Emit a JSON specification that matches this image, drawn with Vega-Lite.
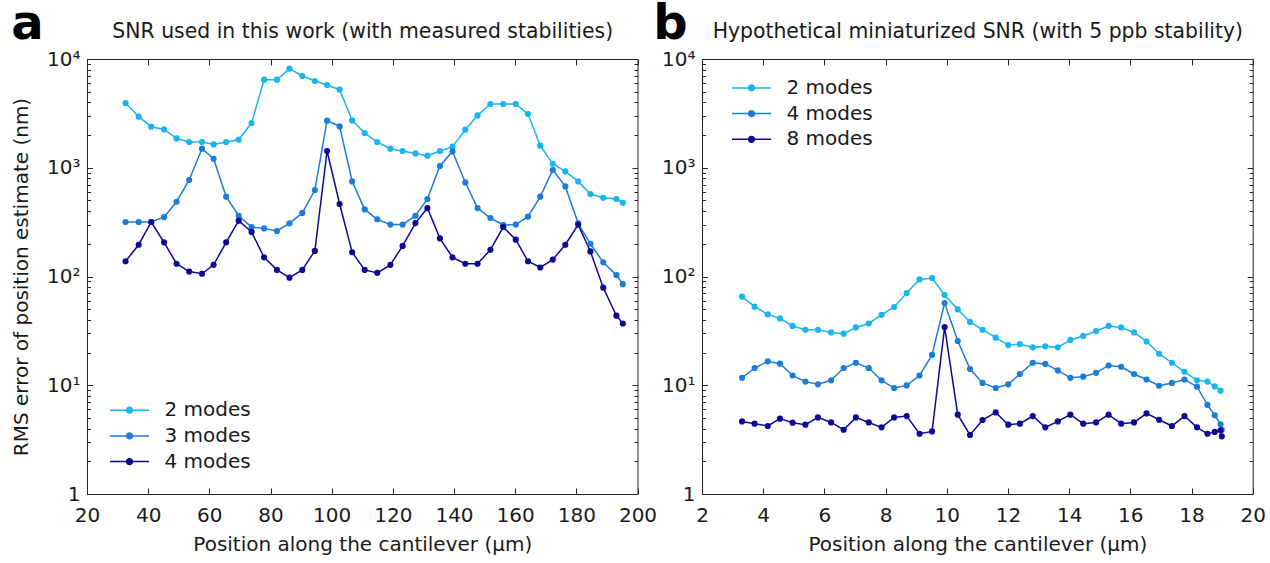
{
  "$schema": "https://vega.github.io/schema/vega-lite/v6.json",
  "background": "white",
  "padding": {"left": 10, "top": 0, "right": 0, "bottom": 0},
  "spacing": -5,
  "config": {
    "font": "DejaVu Sans",
    "view": {"stroke": null},
    "axis": {
      "grid": false,
      "domainColor": "#262626",
      "tickColor": "#262626",
      "domainWidth": 1,
      "tickWidth": 1,
      "labelColor": "#1a1a1a",
      "titleColor": "#1a1a1a",
      "labelFont": "DejaVu Sans",
      "titleFont": "DejaVu Sans",
      "labelFontSize": 20,
      "titleFontSize": 20,
      "titleFontWeight": "normal",
      "labelOverlap": false,
      "labelFlush": false
    },
    "legend": {
      "labelFont": "DejaVu Sans",
      "labelFontSize": 20,
      "labelColor": "#1a1a1a"
    }
  },
  "resolve": {"scale": {"color": "independent"}, "legend": {"color": "independent"}},
  "hconcat": [
    {
      "width": 550.5,
      "height": 435,
      "data": {"values": [
        {"x":32.6,"v":3939,"s":"2 modes"},{"x":36.9,"v":2947,"s":"2 modes"},{"x":41.0,"v":2385,"s":"2 modes"},{"x":45.2,"v":2252,"s":"2 modes"},{"x":49.3,"v":1861,"s":"2 modes"},{"x":53.4,"v":1725,"s":"2 modes"},{"x":57.6,"v":1725,"s":"2 modes"},{"x":61.4,"v":1640,"s":"2 modes"},{"x":65.5,"v":1725,"s":"2 modes"},{"x":69.6,"v":1811,"s":"2 modes"},{"x":73.8,"v":2579,"s":"2 modes"},{"x":77.9,"v":6451,"s":"2 modes"},{"x":82.1,"v":6451,"s":"2 modes"},{"x":86.2,"v":8144,"s":"2 modes"},{"x":90.4,"v":6978,"s":"2 modes"},{"x":94.5,"v":6276,"s":"2 modes"},{"x":98.5,"v":5767,"s":"2 modes"},{"x":102.6,"v":5220,"s":"2 modes"},{"x":106.7,"v":2725,"s":"2 modes"},{"x":110.8,"v":2087,"s":"2 modes"},{"x":114.9,"v":1725,"s":"2 modes"},{"x":119.2,"v":1497,"s":"2 modes"},{"x":123.2,"v":1426,"s":"2 modes"},{"x":127.4,"v":1355,"s":"2 modes"},{"x":131.3,"v":1291,"s":"2 modes"},{"x":135.4,"v":1426,"s":"2 modes"},{"x":139.5,"v":1562,"s":"2 modes"},{"x":143.7,"v":2238,"s":"2 modes"},{"x":147.7,"v":3030,"s":"2 modes"},{"x":151.9,"v":3857,"s":"2 modes"},{"x":156.1,"v":3857,"s":"2 modes"},{"x":160.2,"v":3857,"s":"2 modes"},{"x":164.2,"v":3120,"s":"2 modes"},{"x":168.2,"v":1595,"s":"2 modes"},{"x":172.3,"v":1089,"s":"2 modes"},{"x":176.4,"v":926,"s":"2 modes"},{"x":180.6,"v":749,"s":"2 modes"},{"x":184.6,"v":574,"s":"2 modes"},{"x":188.8,"v":530,"s":"2 modes"},{"x":193.1,"v":516,"s":"2 modes"},{"x":195.2,"v":477,"s":"2 modes"},
        {"x":32.6,"v":317,"s":"3 modes"},{"x":36.9,"v":317,"s":"3 modes"},{"x":41.0,"v":317,"s":"3 modes"},{"x":45.2,"v":352,"s":"3 modes"},{"x":49.3,"v":487,"s":"3 modes"},{"x":53.4,"v":772,"s":"3 modes"},{"x":57.6,"v":1497,"s":"3 modes"},{"x":61.4,"v":1211,"s":"3 modes"},{"x":65.5,"v":542,"s":"3 modes"},{"x":69.6,"v":362,"s":"3 modes"},{"x":73.8,"v":285,"s":"3 modes"},{"x":77.9,"v":277,"s":"3 modes"},{"x":82.1,"v":262,"s":"3 modes"},{"x":86.2,"v":308,"s":"3 modes"},{"x":90.4,"v":384,"s":"3 modes"},{"x":94.5,"v":624,"s":"3 modes"},{"x":98.5,"v":2708,"s":"3 modes"},{"x":102.6,"v":2400,"s":"3 modes"},{"x":106.7,"v":749,"s":"3 modes"},{"x":110.8,"v":414,"s":"3 modes"},{"x":114.9,"v":336,"s":"3 modes"},{"x":119.2,"v":300,"s":"3 modes"},{"x":123.2,"v":300,"s":"3 modes"},{"x":127.4,"v":362,"s":"3 modes"},{"x":131.3,"v":516,"s":"3 modes"},{"x":135.4,"v":1038,"s":"3 modes"},{"x":139.5,"v":1414,"s":"3 modes"},{"x":143.7,"v":733,"s":"3 modes"},{"x":147.7,"v":426,"s":"3 modes"},{"x":151.9,"v":345,"s":"3 modes"},{"x":156.1,"v":298,"s":"3 modes"},{"x":160.2,"v":300,"s":"3 modes"},{"x":164.2,"v":355,"s":"3 modes"},{"x":168.2,"v":542,"s":"3 modes"},{"x":172.3,"v":953,"s":"3 modes"},{"x":176.4,"v":674,"s":"3 modes"},{"x":180.6,"v":308,"s":"3 modes"},{"x":184.6,"v":200,"s":"3 modes"},{"x":188.8,"v":135,"s":"3 modes"},{"x":193.1,"v":103,"s":"3 modes"},{"x":195.2,"v":85,"s":"3 modes"},
        {"x":32.6,"v":138,"s":"4 modes"},{"x":36.9,"v":196,"s":"4 modes"},{"x":41.0,"v":317,"s":"4 modes"},{"x":45.2,"v":206,"s":"4 modes"},{"x":49.3,"v":131,"s":"4 modes"},{"x":53.4,"v":111,"s":"4 modes"},{"x":57.6,"v":106,"s":"4 modes"},{"x":61.4,"v":128,"s":"4 modes"},{"x":65.5,"v":206,"s":"4 modes"},{"x":69.6,"v":326,"s":"4 modes"},{"x":73.8,"v":257,"s":"4 modes"},{"x":77.9,"v":150,"s":"4 modes"},{"x":82.1,"v":115,"s":"4 modes"},{"x":86.2,"v":97.5,"s":"4 modes"},{"x":90.4,"v":115,"s":"4 modes"},{"x":94.5,"v":172,"s":"4 modes"},{"x":98.5,"v":1426,"s":"4 modes"},{"x":102.6,"v":464,"s":"4 modes"},{"x":106.7,"v":167,"s":"4 modes"},{"x":110.8,"v":115,"s":"4 modes"},{"x":114.9,"v":108,"s":"4 modes"},{"x":119.2,"v":128,"s":"4 modes"},{"x":123.2,"v":191,"s":"4 modes"},{"x":127.4,"v":310,"s":"4 modes"},{"x":131.3,"v":426,"s":"4 modes"},{"x":135.4,"v":224,"s":"4 modes"},{"x":139.5,"v":150,"s":"4 modes"},{"x":143.7,"v":131,"s":"4 modes"},{"x":147.7,"v":131,"s":"4 modes"},{"x":151.9,"v":176,"s":"4 modes"},{"x":156.1,"v":285,"s":"4 modes"},{"x":160.2,"v":218,"s":"4 modes"},{"x":164.2,"v":138,"s":"4 modes"},{"x":168.2,"v":121,"s":"4 modes"},{"x":172.3,"v":143,"s":"4 modes"},{"x":176.4,"v":196,"s":"4 modes"},{"x":180.6,"v":300,"s":"4 modes"},{"x":184.6,"v":170,"s":"4 modes"},{"x":188.8,"v":79,"s":"4 modes"},{"x":193.1,"v":43.6,"s":"4 modes"},{"x":195.2,"v":37,"s":"4 modes"}
      ]},
      "layer": [
        {
          "mark": {"type": "line", "strokeWidth": 1.5, "point": {"filled": true, "size": 38, "opacity": 1}},
          "encoding": {
            "x": {"field": "x", "type": "quantitative",
              "scale": {"domain": [20, 200], "nice": false, "zero": false},
              "axis": {"orient": "bottom", "values": [20,40,60,80,100,120,140,160,180,200], "tickSize": -6, "labelPadding": 17.5, "title": "Position along the cantilever (µm)", "titlePadding": 9}},
            "y": {"field": "v", "type": "quantitative",
              "scale": {"type": "log", "domain": [1, 10000], "nice": false},
              "axis": {"orient": "left",
                "values": [1,2,3,4,5,6,7,8,9,10,20,30,40,50,60,70,80,90,100,200,300,400,500,600,700,800,900,1000,2000,3000,4000,5000,6000,7000,8000,9000,10000],
                "tickSize": {"condition": {"test": "indexof([1,10,100,1000,10000], datum.value) >= 0", "value": -5.5}, "value": -3.5},
                "labelExpr": "datum.value == 1 ? '1' : datum.value == 10 ? '10¹' : datum.value == 100 ? '10²' : datum.value == 1000 ? '10³' : datum.value == 10000 ? '10⁴' : ''",
                "labelPadding": 12.5,
                "title": "RMS error of position estimate (nm)", "titlePadding": 15.5}},
            "color": {"field": "s", "type": "nominal",
              "scale": {"domain": ["2 modes", "3 modes", "4 modes"], "range": ["#19B5F0", "#1B7CD9", "#0A0A96"]},
              "legend": {"orient": "none", "legendX": 32, "legendY": 340.7, "title": null, "padding": 0,
                "symbolType": "M-2,0H2M0.3,0A0.3,0.3,0,1,1,-0.3,0A0.3,0.3,0,1,1,0.3,0M0.18,0A0.18,0.18,0,1,1,-0.18,0A0.18,0.18,0,1,1,0.18,0M0.06,0A0.06,0.06,0,1,1,-0.06,0A0.06,0.06,0,1,1,0.06,0",
                "symbolSize": 380, "symbolStrokeWidth": 1.5, "symbolFillColor": "transparent", "labelOffset": 24.4, "rowPadding": 4.7}}
          }
        },
        {
          "mark": {"type": "point", "opacity": 0},
          "encoding": {
            "x": {"field": "x", "type": "quantitative",
              "scale": {"domain": [20, 200], "nice": false, "zero": false},
              "axis": {"orient": "top", "values": [20,40,60,80,100,120,140,160,180,200], "tickSize": -6, "labels": false,
                "title": "SNR used in this work (with measured stabilities)", "titleX": 275.25, "titleY": -22, "titleBaseline": "alphabetic", "titleAlign": "center", "titleFontSize": 20.4}},
            "y": {"field": "v", "type": "quantitative",
              "scale": {"type": "log", "domain": [1, 10000], "nice": false},
              "axis": {"orient": "right",
                "values": [1,2,3,4,5,6,7,8,9,10,20,30,40,50,60,70,80,90,100,200,300,400,500,600,700,800,900,1000,2000,3000,4000,5000,6000,7000,8000,9000,10000],
                "tickSize": {"condition": {"test": "indexof([1,10,100,1000,10000], datum.value) >= 0", "value": -5.5}, "value": -3.5},
                "labels": false,
                "title": "a", "titleAngle": 0, "titleX": -626.7, "titleY": -21, "titleAlign": "left", "titleBaseline": "alphabetic", "titleFontSize": 48, "titleFontWeight": "bold", "titleColor": "#000000"}}
          }
        }
      ],
      "resolve": {"axis": {"x": "independent", "y": "independent"}}
    },
    {
      "width": 550.7,
      "height": 435,
      "data": {"values": [
        {"x":3.31,"v":65.2,"s":"2 modes"},{"x":3.72,"v":52.8,"s":"2 modes"},{"x":4.15,"v":44.8,"s":"2 modes"},{"x":4.55,"v":41.2,"s":"2 modes"},{"x":4.96,"v":35.1,"s":"2 modes"},{"x":5.38,"v":32.4,"s":"2 modes"},{"x":5.79,"v":32.4,"s":"2 modes"},{"x":6.22,"v":30.6,"s":"2 modes"},{"x":6.63,"v":29.8,"s":"2 modes"},{"x":7.03,"v":34.0,"s":"2 modes"},{"x":7.45,"v":37.0,"s":"2 modes"},{"x":7.87,"v":44.5,"s":"2 modes"},{"x":8.28,"v":52.4,"s":"2 modes"},{"x":8.69,"v":70.5,"s":"2 modes"},{"x":9.11,"v":94.0,"s":"2 modes"},{"x":9.52,"v":96.9,"s":"2 modes"},{"x":9.93,"v":67.6,"s":"2 modes"},{"x":10.36,"v":49.8,"s":"2 modes"},{"x":10.76,"v":38.2,"s":"2 modes"},{"x":11.17,"v":32.4,"s":"2 modes"},{"x":11.60,"v":27.4,"s":"2 modes"},{"x":12.01,"v":23.4,"s":"2 modes"},{"x":12.39,"v":23.9,"s":"2 modes"},{"x":12.81,"v":22.3,"s":"2 modes"},{"x":13.22,"v":22.8,"s":"2 modes"},{"x":13.63,"v":22.3,"s":"2 modes"},{"x":14.04,"v":26.1,"s":"2 modes"},{"x":14.46,"v":28.4,"s":"2 modes"},{"x":14.88,"v":31.5,"s":"2 modes"},{"x":15.29,"v":35.1,"s":"2 modes"},{"x":15.70,"v":34.0,"s":"2 modes"},{"x":16.12,"v":30.6,"s":"2 modes"},{"x":16.53,"v":25.3,"s":"2 modes"},{"x":16.94,"v":19.5,"s":"2 modes"},{"x":17.36,"v":16.1,"s":"2 modes"},{"x":17.77,"v":13.3,"s":"2 modes"},{"x":18.18,"v":11.1,"s":"2 modes"},{"x":18.52,"v":10.8,"s":"2 modes"},{"x":18.76,"v":9.76,"s":"2 modes"},{"x":18.95,"v":8.91,"s":"2 modes"},
        {"x":3.31,"v":11.7,"s":"4 modes"},{"x":3.72,"v":14.4,"s":"4 modes"},{"x":4.15,"v":16.6,"s":"4 modes"},{"x":4.55,"v":15.8,"s":"4 modes"},{"x":4.96,"v":12.3,"s":"4 modes"},{"x":5.38,"v":10.8,"s":"4 modes"},{"x":5.79,"v":10.2,"s":"4 modes"},{"x":6.22,"v":11.1,"s":"4 modes"},{"x":6.63,"v":14.4,"s":"4 modes"},{"x":7.03,"v":16.1,"s":"4 modes"},{"x":7.45,"v":14.4,"s":"4 modes"},{"x":7.87,"v":11.1,"s":"4 modes"},{"x":8.28,"v":9.43,"s":"4 modes"},{"x":8.69,"v":9.97,"s":"4 modes"},{"x":9.11,"v":12.3,"s":"4 modes"},{"x":9.52,"v":19.0,"s":"4 modes"},{"x":9.93,"v":57.1,"s":"4 modes"},{"x":10.36,"v":25.5,"s":"4 modes"},{"x":10.76,"v":14.1,"s":"4 modes"},{"x":11.17,"v":10.5,"s":"4 modes"},{"x":11.60,"v":9.43,"s":"4 modes"},{"x":12.01,"v":10.2,"s":"4 modes"},{"x":12.39,"v":12.7,"s":"4 modes"},{"x":12.81,"v":16.1,"s":"4 modes"},{"x":13.22,"v":15.7,"s":"4 modes"},{"x":13.63,"v":13.7,"s":"4 modes"},{"x":14.04,"v":11.7,"s":"4 modes"},{"x":14.46,"v":12.0,"s":"4 modes"},{"x":14.88,"v":13.0,"s":"4 modes"},{"x":15.29,"v":15.2,"s":"4 modes"},{"x":15.70,"v":14.8,"s":"4 modes"},{"x":16.12,"v":12.7,"s":"4 modes"},{"x":16.53,"v":11.3,"s":"4 modes"},{"x":16.94,"v":9.9,"s":"4 modes"},{"x":17.36,"v":10.5,"s":"4 modes"},{"x":17.77,"v":11.3,"s":"4 modes"},{"x":18.18,"v":9.7,"s":"4 modes"},{"x":18.52,"v":6.6,"s":"4 modes"},{"x":18.76,"v":5.3,"s":"4 modes"},{"x":18.95,"v":4.38,"s":"4 modes"},{"x":18.99,"v":3.9,"s":"4 modes"},
        {"x":3.31,"v":4.65,"s":"8 modes"},{"x":3.72,"v":4.43,"s":"8 modes"},{"x":4.15,"v":4.22,"s":"8 modes"},{"x":4.55,"v":4.93,"s":"8 modes"},{"x":4.96,"v":4.53,"s":"8 modes"},{"x":5.38,"v":4.34,"s":"8 modes"},{"x":5.79,"v":5.06,"s":"8 modes"},{"x":6.22,"v":4.55,"s":"8 modes"},{"x":6.63,"v":3.9,"s":"8 modes"},{"x":7.03,"v":5.06,"s":"8 modes"},{"x":7.45,"v":4.55,"s":"8 modes"},{"x":7.87,"v":4.10,"s":"8 modes"},{"x":8.28,"v":5.06,"s":"8 modes"},{"x":8.69,"v":5.21,"s":"8 modes"},{"x":9.11,"v":3.58,"s":"8 modes"},{"x":9.52,"v":3.76,"s":"8 modes"},{"x":9.93,"v":34.3,"s":"8 modes"},{"x":10.36,"v":5.36,"s":"8 modes"},{"x":10.76,"v":3.49,"s":"8 modes"},{"x":11.17,"v":4.79,"s":"8 modes"},{"x":11.60,"v":5.63,"s":"8 modes"},{"x":12.01,"v":4.34,"s":"8 modes"},{"x":12.39,"v":4.43,"s":"8 modes"},{"x":12.81,"v":5.21,"s":"8 modes"},{"x":13.22,"v":4.10,"s":"8 modes"},{"x":13.63,"v":4.65,"s":"8 modes"},{"x":14.04,"v":5.36,"s":"8 modes"},{"x":14.46,"v":4.43,"s":"8 modes"},{"x":14.88,"v":4.55,"s":"8 modes"},{"x":15.29,"v":5.36,"s":"8 modes"},{"x":15.70,"v":4.43,"s":"8 modes"},{"x":16.12,"v":4.55,"s":"8 modes"},{"x":16.53,"v":5.51,"s":"8 modes"},{"x":16.94,"v":4.82,"s":"8 modes"},{"x":17.36,"v":4.22,"s":"8 modes"},{"x":17.77,"v":5.21,"s":"8 modes"},{"x":18.18,"v":4.10,"s":"8 modes"},{"x":18.52,"v":3.58,"s":"8 modes"},{"x":18.76,"v":3.72,"s":"8 modes"},{"x":18.95,"v":3.85,"s":"8 modes"},{"x":18.99,"v":3.39,"s":"8 modes"}
      ]},
      "layer": [
        {
          "mark": {"type": "line", "strokeWidth": 1.5, "point": {"filled": true, "size": 38, "opacity": 1}},
          "encoding": {
            "x": {"field": "x", "type": "quantitative",
              "scale": {"domain": [2, 20], "nice": false, "zero": false},
              "axis": {"orient": "bottom", "values": [2,4,6,8,10,12,14,16,18,20], "tickSize": -6, "labelPadding": 17.5, "title": "Position along the cantilever (µm)", "titlePadding": 9}},
            "y": {"field": "v", "type": "quantitative",
              "scale": {"type": "log", "domain": [1, 10000], "nice": false},
              "axis": {"orient": "left",
                "values": [1,2,3,4,5,6,7,8,9,10,20,30,40,50,60,70,80,90,100,200,300,400,500,600,700,800,900,1000,2000,3000,4000,5000,6000,7000,8000,9000,10000],
                "tickSize": {"condition": {"test": "indexof([1,10,100,1000,10000], datum.value) >= 0", "value": -5.5}, "value": -3.5},
                "labelExpr": "datum.value == 1 ? '1' : datum.value == 10 ? '10¹' : datum.value == 100 ? '10²' : datum.value == 1000 ? '10³' : datum.value == 10000 ? '10⁴' : ''",
                "labelPadding": 12.5,
                "title": null}},
            "color": {"field": "s", "type": "nominal",
              "scale": {"domain": ["2 modes", "4 modes", "8 modes"], "range": ["#19B5F0", "#1B7CD9", "#0A0A96"]},
              "legend": {"orient": "none", "legendX": 39, "legendY": 18.4, "title": null, "padding": 0,
                "symbolType": "M-2,0H2M0.3,0A0.3,0.3,0,1,1,-0.3,0A0.3,0.3,0,1,1,0.3,0M0.18,0A0.18,0.18,0,1,1,-0.18,0A0.18,0.18,0,1,1,0.18,0M0.06,0A0.06,0.06,0,1,1,-0.06,0A0.06,0.06,0,1,1,0.06,0",
                "symbolSize": 380, "symbolStrokeWidth": 1.5, "symbolFillColor": "transparent", "labelOffset": 24.4, "rowPadding": 4.7}}
          }
        },
        {
          "mark": {"type": "point", "opacity": 0},
          "encoding": {
            "x": {"field": "x", "type": "quantitative",
              "scale": {"domain": [2, 20], "nice": false, "zero": false},
              "axis": {"orient": "top", "values": [2,4,6,8,10,12,14,16,18,20], "tickSize": -6, "labels": false,
                "title": "Hypothetical miniaturized SNR (with 5 ppb stability)", "titleX": 275.35, "titleY": -22, "titleBaseline": "alphabetic", "titleAlign": "center", "titleFontSize": 20.4}},
            "y": {"field": "v", "type": "quantitative",
              "scale": {"type": "log", "domain": [1, 10000], "nice": false},
              "axis": {"orient": "right",
                "values": [1,2,3,4,5,6,7,8,9,10,20,30,40,50,60,70,80,90,100,200,300,400,500,600,700,800,900,1000,2000,3000,4000,5000,6000,7000,8000,9000,10000],
                "tickSize": {"condition": {"test": "indexof([1,10,100,1000,10000], datum.value) >= 0", "value": -5.5}, "value": -3.5},
                "labels": false,
                "title": "b", "titleAngle": 0, "titleX": -600, "titleY": -21, "titleAlign": "left", "titleBaseline": "alphabetic", "titleFontSize": 48, "titleFontWeight": "bold", "titleColor": "#000000"}}
          }
        }
      ],
      "resolve": {"axis": {"x": "independent", "y": "independent"}}
    }
  ]
}
